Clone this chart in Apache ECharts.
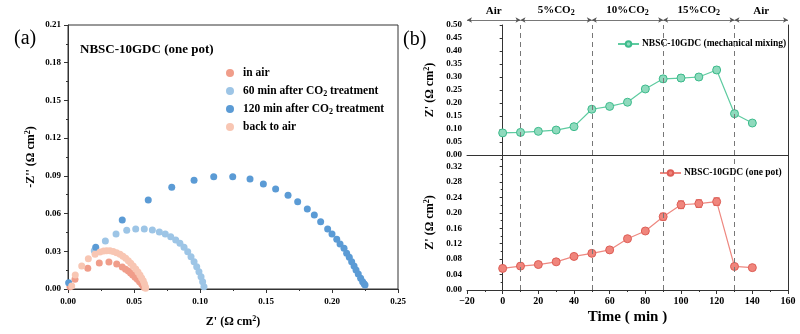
<!DOCTYPE html>
<html>
<head>
<meta charset="utf-8">
<script src="https://cdn.jsdelivr.net/npm/echarts@6/dist/echarts.min.js"></script>
<style>
  html, body { margin: 0; padding: 0; background: #fff; }
  #chart { width: 800px; height: 334px; }
</style>
</head>
<body>
<div id="chart"></div>
<script>
// ---------- (a) Nyquist data: [Z', -Z''] in Ω cm² ----------
const inAir = [
  [0.0015,0.0018],[0.0053,0.0078],[0.0150,0.0165],[0.0237,0.0207],[0.0310,0.0214],
  [0.0369,0.0199],[0.0411,0.0175],[0.0436,0.0158],[0.0457,0.0143],[0.0474,0.0127],
  [0.0490,0.0111],[0.0508,0.0094],[0.0525,0.0077],[0.0542,0.0058],[0.0558,0.0040],
  [0.0567,0.0027],[0.0576,0.0014]
];
const after60 = [
  [0.0199,0.0305],[0.0283,0.0382],[0.0364,0.0438],[0.0445,0.0467],[0.0513,0.0477],
  [0.0578,0.0477],[0.0639,0.0469],[0.0692,0.0453],[0.0737,0.0438],[0.0778,0.0416],
  [0.0816,0.0390],[0.0848,0.0364],[0.0879,0.0332],[0.0907,0.0297],[0.0932,0.0257],
  [0.0955,0.0217],[0.0975,0.0177],[0.0992,0.0138],[0.1008,0.0098],[0.1020,0.0058],
  [0.1030,0.0018]
];
const after120 = [
  [0.0005,0.0050],[0.0210,0.0332],[0.0411,0.0549],[0.0608,0.0708],[0.0786,0.0809],
  [0.0955,0.0865],[0.1104,0.0893],[0.1248,0.0893],[0.1379,0.0875],[0.1480,0.0835],
  [0.1573,0.0796],[0.1667,0.0745],[0.1740,0.0695],[0.1813,0.0636],[0.1866,0.0589],
  [0.1914,0.0535],[0.1967,0.0477],[0.2000,0.0438],[0.2036,0.0395],[0.2061,0.0358],
  [0.2091,0.0324],[0.2111,0.0284],[0.2131,0.0252],[0.2149,0.0217],[0.2167,0.0183],
  [0.2182,0.0151],[0.2199,0.0119],[0.2217,0.0085],[0.2232,0.0058],[0.2243,0.0042],
  [0.2250,0.0032]
];
const backToAir = [
  [0.0028,0.0024],[0.0055,0.0111],[0.0104,0.0183],[0.0154,0.0240],[0.0205,0.0276],
  [0.0242,0.0294],[0.0270,0.0302],[0.0293,0.0305],[0.0318,0.0304],[0.0343,0.0298],
  [0.0368,0.0289],[0.0394,0.0276],[0.0416,0.0261],[0.0437,0.0244],[0.0457,0.0225],
  [0.0475,0.0204],[0.0494,0.0182],[0.0513,0.0159],[0.0530,0.0135],[0.0545,0.0111],
  [0.0558,0.0088],[0.0570,0.0066],[0.0579,0.0042],[0.0586,0.0018],[0.0588,0.0005]
];
const nyquistNames = ['in air', '60 min after CO2 treatment', '120 min after CO2 treatment', 'back to air'];

// ---------- (b) time series ----------
const timeMin = [0, 10, 20, 30, 40, 50, 60, 70, 80, 90, 100, 110, 120, 130, 140];
const mixingZ   = [0.085, 0.087, 0.091, 0.096, 0.109, 0.176, 0.187, 0.203, 0.254, 0.293, 0.296, 0.300, 0.327, 0.159, 0.123];
const mixingErr = [0.004, 0.004, 0.004, 0.004, 0.005, 0.007, 0.007, 0.007, 0.008, 0.012, 0.012, 0.011, 0.012, 0.007, 0.005];
const onePotZ   = [0.056, 0.062, 0.066, 0.073, 0.087, 0.095, 0.104, 0.133, 0.153, 0.190, 0.221, 0.224, 0.229, 0.061, 0.058];
const onePotErr = [0.003, 0.003, 0.003, 0.003, 0.003, 0.004, 0.004, 0.005, 0.006, 0.009, 0.010, 0.010, 0.010, 0.004, 0.003];
const gasSwitchTimes = [10, 50, 90, 130];
const gasStages = [
  { label: 'Air',      from: -20, to: 10 },
  { label: '5%CO2',    from: 10,  to: 50 },
  { label: '10%CO2',   from: 50,  to: 90 },
  { label: '15%CO2',   from: 90,  to: 130 },
  { label: 'Air',      from: 130, to: 160 }
];

const FONT = '"Liberation Serif", "Times New Roman", serif';
const subRich = {
  sub: { fontSize: 8, fontWeight: 'bold', fontFamily: FONT, verticalAlign: 'bottom', padding: [5, 0, 0, 0] },
  sup: { fontSize: 8, fontWeight: 'bold', fontFamily: FONT, padding: [0, 0, 6, 0] }
};
const withSub = s => s.replace('CO2', 'CO{sub|2}');

const nyqColors = ['#F09D8A', '#9DC5E6', '#5B9BD5', '#F8C6B3'];

const axisLabelStyle = { color: '#000', fontFamily: FONT, fontWeight: 'bold', fontSize: 9 };
const lineStyleAxis = { color: '#333', width: 1 };

function errorBarSeries(xi, yi, color, xs, ys, errs) {
  return {
    type: 'custom',
    xAxisIndex: xi, yAxisIndex: yi,
    silent: true, z: 3,
    data: xs.map((x, i) => [x, ys[i] - errs[i], ys[i] + errs[i]]),
    renderItem: function (params, api) {
      const x = api.value(0);
      const lo = api.coord([x, api.value(1)]);
      const hi = api.coord([x, api.value(2)]);
      const w = 3;
      const st = { stroke: color, lineWidth: 1 };
      return {
        type: 'group',
        children: [
          { type: 'line', shape: { x1: lo[0], y1: lo[1], x2: hi[0], y2: hi[1] }, style: st },
          { type: 'line', shape: { x1: lo[0] - w, y1: lo[1], x2: lo[0] + w, y2: lo[1] }, style: st },
          { type: 'line', shape: { x1: hi[0] - w, y1: hi[1], x2: hi[0] + w, y2: hi[1] }, style: st }
        ]
      };
    }
  };
}

const switchMarkLine = {
  silent: true,
  symbol: ['none', 'none'],
  label: { show: false },
  lineStyle: { color: '#777', type: [5, 4], width: 1 },
  data: gasSwitchTimes.map(t => ({ xAxis: t }))
};

const chart = echarts.init(document.getElementById('chart'), null, { renderer: 'canvas' });

const option = {
  animation: false,
  backgroundColor: '#fff',
  textStyle: { fontFamily: FONT },
  grid: [
    { left: 68, top: 25, width: 330, height: 264, show: true, borderColor: '#333', borderWidth: 1, backgroundColor: 'transparent' },
    { left: 467, top: 25, width: 321, height: 130 },
    { left: 467, top: 155, width: 321, height: 135 },
    { left: 467, top: 12, width: 321, height: 16 }
  ],
  xAxis: [
    {
      gridIndex: 0, type: 'value', min: 0, max: 0.25, interval: 0.05,
      name: "Z' (Ω cm{sup|2})", nameLocation: 'middle', nameGap: 26,
      nameTextStyle: { color: '#000', fontFamily: FONT, fontWeight: 'bold', fontSize: 12, rich: subRich },
      axisLine: { show: true, lineStyle: lineStyleAxis },
      axisTick: { show: true, length: 4, lineStyle: lineStyleAxis },
      minorTick: { show: true, splitNumber: 2, length: 2, lineStyle: lineStyleAxis },
      axisLabel: Object.assign({ formatter: v => v.toFixed(2), margin: 8 }, axisLabelStyle),
      splitLine: { show: false }
    },
    {
      gridIndex: 1, type: 'value', min: -20, max: 160, interval: 20,
      axisLine: { show: true, onZero: false, lineStyle: lineStyleAxis },
      axisTick: { show: false }, axisLabel: { show: false }, splitLine: { show: false }
    },
    {
      gridIndex: 2, type: 'value', min: -20, max: 160, interval: 20,
      name: 'Time ( min )', nameLocation: 'middle', nameGap: 20,
      nameTextStyle: { color: '#000', fontFamily: FONT, fontWeight: 'bold', fontSize: 15 },
      axisLine: { show: true, onZero: false, lineStyle: lineStyleAxis },
      axisTick: { show: true, length: 4, lineStyle: lineStyleAxis },
      minorTick: { show: true, splitNumber: 2, length: 2, lineStyle: lineStyleAxis },
      axisLabel: Object.assign({ formatter: v => (v < 0 ? '\u2212' + Math.abs(v) : String(v)), margin: 6 }, axisLabelStyle, { fontSize: 10 }),
      splitLine: { show: false }
    },
    {
      gridIndex: 3, type: 'value', min: -20, max: 160,
      show: false
    }
  ],
  yAxis: [
    {
      gridIndex: 0, type: 'value', min: 0, max: 0.21, interval: 0.03,
      name: "-Z'' (Ω cm{sup|2})", nameLocation: 'middle', nameGap: 30,
      nameTextStyle: { color: '#000', fontFamily: FONT, fontWeight: 'bold', fontSize: 12, rich: subRich },
      axisLine: { show: true, lineStyle: lineStyleAxis },
      axisTick: { show: true, length: 4, lineStyle: lineStyleAxis },
      minorTick: { show: true, splitNumber: 2, length: 2, lineStyle: lineStyleAxis },
      axisLabel: Object.assign({ formatter: v => v.toFixed(2), margin: 7 }, axisLabelStyle),
      splitLine: { show: false }
    },
    {
      gridIndex: 1, type: 'value', min: 0, max: 0.5, interval: 0.05,
      name: "Z' (Ω cm{sup|2})", nameLocation: 'middle', nameGap: 30,
      nameTextStyle: { color: '#000', fontFamily: FONT, fontWeight: 'bold', fontSize: 12, rich: subRich },
      axisLine: { show: true, lineStyle: lineStyleAxis },
      axisTick: { show: true, length: 3, lineStyle: lineStyleAxis },
      axisLabel: Object.assign({ formatter: v => v.toFixed(2), margin: 5 }, axisLabelStyle),
      splitLine: { show: false }
    },
    {
      gridIndex: 2, type: 'value', min: 0, max: 0.35, interval: 0.04,
      name: "Z' (Ω cm{sup|2})", nameLocation: 'middle', nameGap: 30,
      nameTextStyle: { color: '#000', fontFamily: FONT, fontWeight: 'bold', fontSize: 12, rich: subRich },
      axisLine: { show: true, lineStyle: lineStyleAxis },
      axisTick: { show: true, length: 3, lineStyle: lineStyleAxis },
      minorTick: { show: true, splitNumber: 2, length: 2, lineStyle: lineStyleAxis },
      axisLabel: Object.assign({ formatter: v => v.toFixed(2), margin: 5, showMaxLabel: false }, axisLabelStyle),
      splitLine: { show: false }
    },
    {
      gridIndex: 3, type: 'value', min: 0, max: 1, show: false
    },
    // right-hand frame lines of panel (b)
    {
      gridIndex: 1, type: 'value', position: 'right', min: 0, max: 1,
      axisLine: { show: true, lineStyle: lineStyleAxis }, axisTick: { show: false },
      axisLabel: { show: false }, splitLine: { show: false }
    },
    {
      gridIndex: 2, type: 'value', position: 'right', min: 0, max: 1,
      axisLine: { show: true, lineStyle: lineStyleAxis }, axisTick: { show: false },
      axisLabel: { show: false }, splitLine: { show: false }
    }
  ],
  legend: [
    {
      data: nyquistNames,
      orient: 'vertical', left: 221, top: 61,
      icon: 'circle', itemWidth: 8, itemHeight: 8, itemGap: 4,
      formatter: withSub,
      textStyle: { color: '#000', fontFamily: FONT, fontWeight: 'bold', fontSize: 11.5, lineHeight: 14, padding: [0, 0, 0, 4], rich: subRich }
    },
    {
      data: ['NBSC-10GDC (mechanical mixing)'],
      left: 612, top: 34, itemWidth: 21, itemHeight: 7, itemGap: 3,
      textStyle: { color: '#000', fontFamily: FONT, fontWeight: 'bold', fontSize: 9.5, padding: [0, 0, 0, -2] }
    },
    {
      data: ['NBSC-10GDC (one pot)'],
      left: 654, top: 163, itemWidth: 21, itemHeight: 7, itemGap: 3,
      textStyle: { color: '#000', fontFamily: FONT, fontWeight: 'bold', fontSize: 9.5, padding: [0, 0, 0, -2] }
    }
  ],
  graphic: [
    { type: 'text', left: 14, top: 29, style: { text: '(a)', fontFamily: FONT, fontSize: 20, fill: '#000' } },
    { type: 'text', left: 403, top: 30, style: { text: '(b)', fontFamily: FONT, fontSize: 20, fill: '#000' } },
    { type: 'text', left: 80, top: 43, style: { text: 'NBSC-10GDC (one pot)', fontFamily: FONT, fontWeight: 'bold', fontSize: 13, fill: '#000' } }
  ],
  series: [
    // (a) Nyquist scatter
    ...[inAir, after60, after120, backToAir].map((d, i) => ({
      name: nyquistNames[i], type: 'scatter', xAxisIndex: 0, yAxisIndex: 0,
      symbol: 'circle', symbolSize: 7,
      itemStyle: { color: nyqColors[i], opacity: 1 },
      data: d
    })),
    // (b) upper: mechanical mixing
    {
      name: 'NBSC-10GDC (mechanical mixing)', type: 'line', xAxisIndex: 1, yAxisIndex: 1,
      data: timeMin.map((t, i) => [t, mixingZ[i]]),
      symbol: 'circle', symbolSize: 8, z: 4,
      lineStyle: { color: '#5ECBA0', width: 1.2 },
      itemStyle: { color: '#8FDABD', borderColor: '#3DBB8C', borderWidth: 1 },
      markLine: switchMarkLine
    },
    errorBarSeries(1, 1, '#3DBB8C', timeMin, mixingZ, mixingErr),
    // (b) lower: one pot
    {
      name: 'NBSC-10GDC (one pot)', type: 'line', xAxisIndex: 2, yAxisIndex: 2,
      data: timeMin.map((t, i) => [t, onePotZ[i]]),
      symbol: 'circle', symbolSize: 8, z: 4,
      lineStyle: { color: '#EE8880', width: 1.2 },
      itemStyle: { color: '#F0857C', borderColor: '#DD5E56', borderWidth: 1 },
      markLine: switchMarkLine
    },
    errorBarSeries(2, 2, '#DD5E56', timeMin, onePotZ, onePotErr),
    // gas atmosphere stages along the top
    {
      type: 'line', xAxisIndex: 3, yAxisIndex: 3, data: [], silent: true,
      markLine: {
        silent: true,
        symbol: ['arrow', 'arrow'], symbolSize: [4, 5],
        lineStyle: { color: '#555', type: 'solid', width: 0.8 },
        label: {
          show: true, position: 'middle', distance: 3,
          formatter: p => withSub(p.name),
          color: '#000', fontFamily: FONT, fontWeight: 'bold', fontSize: 11, rich: subRich
        },
        data: gasStages.map(s => [
          { name: s.label, coord: [s.from, 0.5] },
          { coord: [s.to, 0.5] }
        ])
      }
    }
  ]
};

chart.setOption(option);
</script>
</body>
</html>
